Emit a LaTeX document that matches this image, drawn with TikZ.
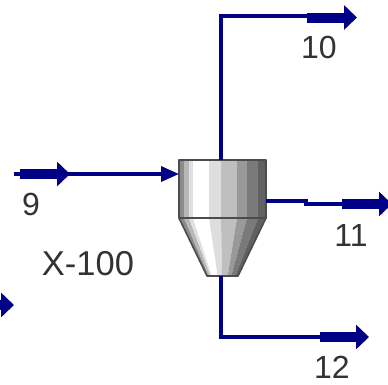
\documentclass[tikz,border=0pt]{standalone}
\usepackage{fontspec}
\setmainfont{Liberation Sans}
\usetikzlibrary{arrows.meta}
\definecolor{streamblue}{RGB}{0,0,135}
\definecolor{labelgray}{RGB}{50,50,55}
\tikzset{
  x=1pt,y=-1pt,
  thinline/.style={draw=streamblue,line width=3.4pt,line join=miter},
  feedline/.style={thinline,-{Triangle[length=18pt,width=15pt]}},
  headline/.style={draw=streamblue,line width=10pt,-{Triangle[length=13pt,width=24pt]}},
  lbl/.style={font=\fontsize{32}{32}\selectfont,text=labelgray,inner sep=0pt},
  outlinedark/.style={draw=black!70,line width=1.6pt,line join=round},
}
\newcommand{\band}[3]{\fill[black!#3] (#1,160) rectangle (#2,218);
  \fill[black!#3] (#1,218) -- (#2,218) -- ({207+(#2-179)*31/87},276) -- ({207+(#1-179)*31/87},276) -- cycle;}
\begin{document}
\begin{tikzpicture}
\useasboundingbox (0,0) rectangle (388,384);
% drum body
\begin{scope}
\clip (179,160) -- (266,160) -- (266,218) -- (238,276) -- (207,276) -- (179,218) -- cycle;
\band{179}{184}{45}
\band{184}{189}{28}
\band{189}{193}{12}
\band{193}{209}{0}
\band{209}{221}{13}
\band{221}{237}{25}
\band{237}{247}{40}
\band{247}{258}{52}
\band{258}{266}{62}
\end{scope}
\draw[outlinedark] (179,160) rectangle (266,218);
\draw[outlinedark] (179,218) -- (207,276) -- (238,276) -- (266,218);
\node[inner sep=0pt,minimum width=87pt,minimum height=116pt] (drum) at (222.5,218) {};
% named points
\coordinate (s9a) at (14,174);
\coordinate (s9b) at (20,174);
\coordinate (s9c) at (70,174);
\coordinate (drumin) at (179,174);
\coordinate (drumtop) at (221,160);
\coordinate (c10) at (221,16);
\coordinate (k10) at (307,16);
\coordinate (s10a) at (307,17.5);
\coordinate (s10b) at (357,17.5);
\coordinate (drumr) at (266,201);
\coordinate (k11a) at (306,201);
\coordinate (k11b) at (306,204);
\coordinate (s11a) at (342,204);
\coordinate (s11b) at (392,204);
\coordinate (drumbot) at (221,276);
\coordinate (c12) at (221,337);
\coordinate (s12a) at (320,337);
\coordinate (s12b) at (369,337);
\coordinate (stubA) at (-10,305);
\coordinate (stubB) at (14,305);
% connectors
\draw[thinline] (s9a) -- (s9c);
\draw[feedline] (s9c) -- (drumin);
\draw[headline] (s9b) -- (s9c);
\draw[thinline] (drumtop) -- (c10) -- (k10);
\draw[headline] (s10a) -- (s10b);
\draw[thinline] (drumr) -- (k11a) -- (k11b) -- (s11a);
\draw[headline] (s11a) -- (s11b);
\draw[thinline] (drumbot) -- (c12) -- (s12a);
\draw[headline] (s12a) -- (s12b);
\draw[headline] (stubA) -- (stubB);
% labels
\node[lbl] (l9) at (31,204) {9};
\node[lbl,font=\fontsize{34.5}{34.5}\selectfont] (lx) at (88,264) {X-100};
\node[lbl] (l10) at (319,47) {10};
\node[lbl] (l11) at (351,235) {11};
\node[lbl] (l12) at (332,367) {12};
\end{tikzpicture}
\end{document}
